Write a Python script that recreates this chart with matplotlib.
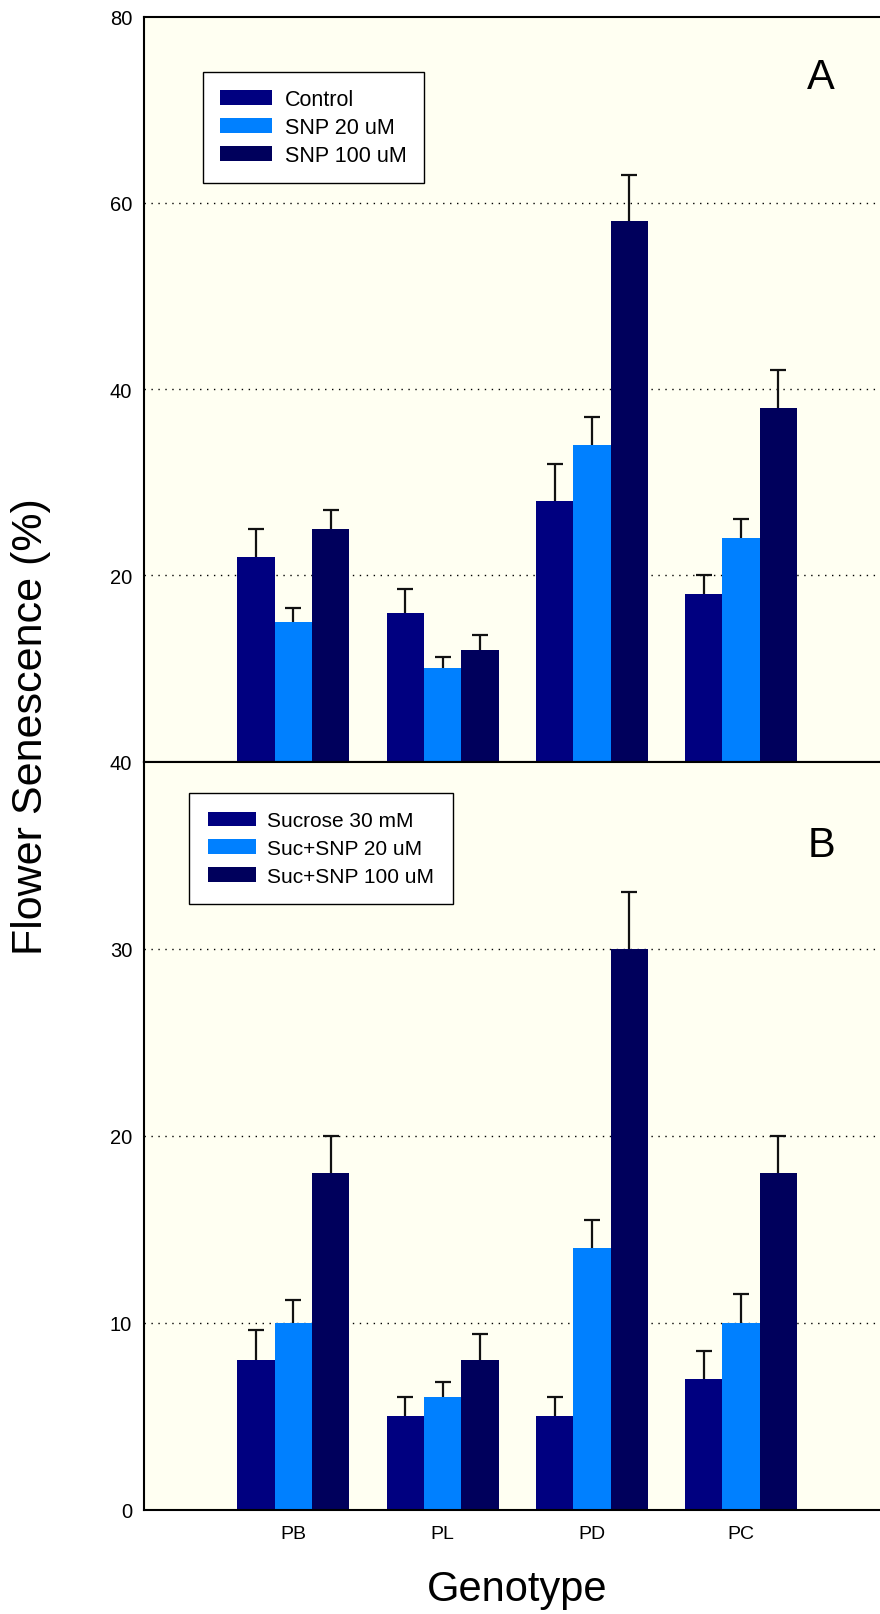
import matplotlib
matplotlib.use("Agg")
import matplotlib.pyplot as plt
import numpy as np

plt.rcParams['font.family'] = ['Liberation Sans', 'DejaVu Sans']

# genotypes on the x axis
genotypes = ['PB', 'PL', 'PD', 'PC']

# panel A: flower senescence (%) and upper error
labels_a = ['Control', 'SNP 20 uM', 'SNP 100 uM']
control = [22, 16, 28, 18]
control_err = [3, 2.5, 4, 2]
snp20 = [15, 10, 34, 24]
snp20_err = [1.5, 1.2, 3, 2]
snp100 = [25, 12, 58, 38]
snp100_err = [2, 1.6, 5, 4]

# panel B
labels_b = ['Sucrose 30 mM', 'Suc+SNP 20 uM', 'Suc+SNP 100 uM']
sucrose = [8, 5, 5, 7]
sucrose_err = [1.6, 1, 1, 1.5]
suc_snp20 = [10, 6, 14, 10]
suc_snp20_err = [1.2, 0.8, 1.5, 1.5]
suc_snp100 = [18, 8, 30, 18]
suc_snp100_err = [2, 1.4, 3, 2]

colors = ['#000080', '#0080FF', '#00005C']
bg = '#FFFFF2'

W, H = 880, 1615
fig = plt.figure(figsize=(W / 100, H / 100), dpi=100)

left = 144 / W
width = (W - 144) / W
axA = fig.add_axes([left, 1 - 762.5 / H, width, (762.5 - 17.5) / H])
axB = fig.add_axes([left, 1 - 1510.5 / H, width, (1510.5 - 762.5) / H])

x = np.arange(1, len(genotypes) + 1)
bw = 0.25


def panel(ax, series, errs, labels, ymax, ticks, ticklabels, grid, leg_kw,
          leg_pos, letter, letter_y):
    ax.set_facecolor(bg)
    for i, (vals, err) in enumerate(zip(series, errs)):
        xs = x + (i - 1) * bw
        ax.bar(xs, vals, bw, color=colors[i], label=labels[i], zorder=2)
        eb = ax.errorbar(xs, vals, yerr=[np.zeros(len(err)), err], fmt='none',
                         ecolor='#111111', elinewidth=1.6, capsize=5.5,
                         capthick=1.6, zorder=3)
        eb[1][0].set_visible(False)   # no cap at the bar top
    for g in grid:
        ax.axhline(g, color='black', lw=1.0, ls=(0, (1, 4)), zorder=1)
    ax.set_xlim(0, 4.93)
    ax.set_ylim(0, ymax)
    ax.set_yticks(ticks)
    ax.set_yticklabels(ticklabels)
    ax.tick_params(axis='y', length=0, pad=8.5, labelsize=14.5)
    ax.spines['right'].set_visible(False)
    for s in ['left', 'top', 'bottom']:
        ax.spines[s].set_linewidth(1.5)
    leg = ax.legend(loc='upper left', bbox_to_anchor=leg_pos,
                    fancybox=False, edgecolor='black', framealpha=1,
                    borderaxespad=0, **leg_kw)
    leg.get_frame().set_linewidth(1.0)
    ax.text(0.92, letter_y, letter, transform=ax.transAxes,
            fontsize=30, ha='center', va='center')


panel(axA, [control, snp20, snp100], [control_err, snp20_err, snp100_err],
      labels_a, 80, [20, 40, 60, 80], ['20', '40', '60', '80'], [20, 40, 60],
      dict(fontsize=15.5, handlelength=2.4, handleheight=0.7,
           handletextpad=0.62, labelspacing=0.32, borderpad=0.8),
      (0.080, 0.926), 'A', 1 - (77.7 - 17.5) / 745)
axA.set_xticks([])

panel(axB, [sucrose, suc_snp20, suc_snp100],
      [sucrose_err, suc_snp20_err, suc_snp100_err],
      labels_b, 40, [0, 10, 20, 30, 40], ['0', '10', '20', '30', '40'],
      [10, 20, 30],
      dict(fontsize=15, handlelength=2.3, handleheight=0.72,
           handletextpad=0.56, labelspacing=0.42, borderpad=0.88),
      (0.0615, 0.958), 'B', 1 - (845.7 - 762.5) / 748)
axB.set_xticks(x)
axB.set_xticklabels(genotypes, fontsize=14)
axB.tick_params(axis='x', length=0, pad=11)

fig.text(31 / W, 1 - 727 / H, 'Flower Senescence (%)', rotation=90,
         fontsize=31, ha='center', va='center')
fig.text(517 / W, 1 - 1590 / H, 'Genotype', fontsize=30,
         ha='center', va='center')

fig.savefig('out.png', dpi=100)
